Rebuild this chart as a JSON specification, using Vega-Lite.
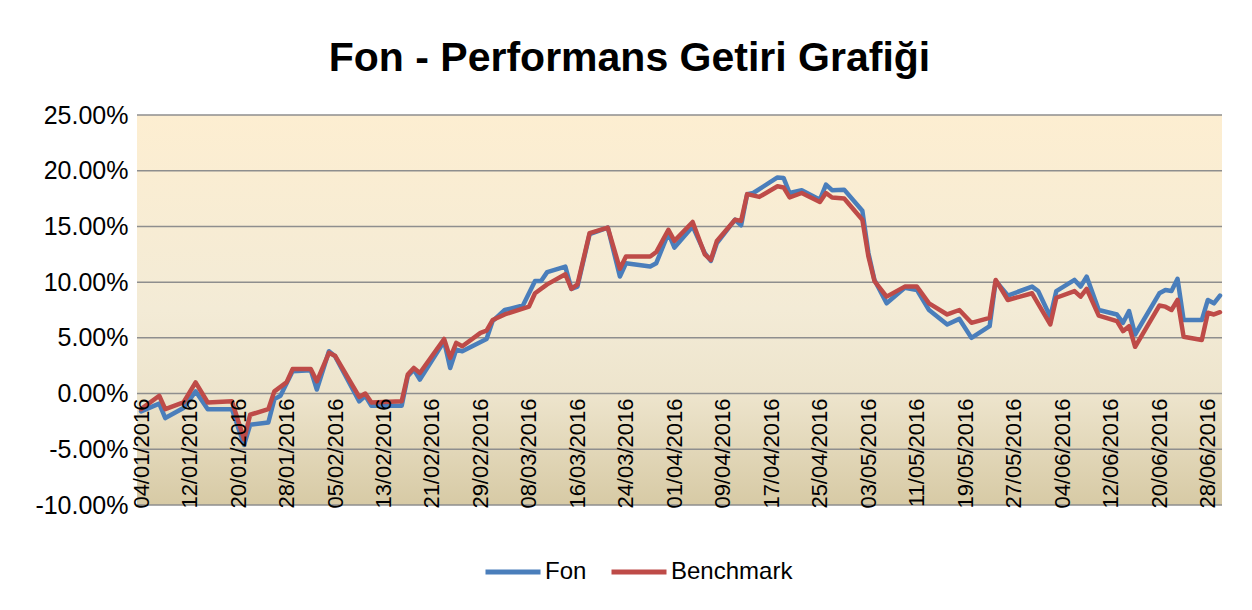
{
  "$schema": "https://vega.github.io/schema/vega-lite/v6.json",
  "width": 1085,
  "height": 390,
  "autosize": {"type": "none"},
  "padding": {"left": 137, "top": 115, "right": 30, "bottom": 105},
  "background": "white",
  "config": {"view": {"stroke": null}, "font": "Liberation Sans"},
  "title": {
    "text": "Fon - Performans Getiri Grafiği",
    "fontSize": 41,
    "font": "Liberation Sans",
    "fontWeight": "bold",
    "color": "#000000",
    "anchor": "middle",
    "dx": -50,
    "offset": -9,
    "baseline": "alphabetic"
  },
  "encoding": {
    "y": {
      "field": "v",
      "type": "quantitative",
      "scale": {"domain": [-0.1, 0.25], "nice": false, "zero": false},
      "axis": {
        "values": [-0.1, -0.05, 0, 0.05, 0.1, 0.15, 0.2, 0.25],
        "labelExpr": "replace(format(datum.value,'.2%'),'\u2212','-')",
        "title": null,
        "domain": false,
        "ticks": false,
        "tickSize": 0,
        "labelPadding": 9,
        "labelFontSize": 25,
        "labelColor": "#000000",
        "labelFont": "Liberation Sans",
        "grid": false
      }
    }
  },
  "layer": [
    {
      "data": {"values": [{"v": 0.25, "v2": -0.1}]},
      "mark": {
        "type": "rect",
        "fill": {
          "gradient": "linear",
          "x1": 0, "y1": 0, "x2": 0, "y2": 1,
          "stops": [
            {"offset": 0, "color": "#FDEED1"},
            {"offset": 0.5, "color": "#F3EBD6"},
            {"offset": 0.72, "color": "#EDE4CC"},
            {"offset": 1, "color": "#D7CAA5"}
          ]
        }
      },
      "encoding": {"y2": {"field": "v2"}}
    },
    {
      "data": {"values": [{"v": -0.1}, {"v": -0.05}, {"v": 0}, {"v": 0.05}, {"v": 0.1}, {"v": 0.15}, {"v": 0.2}, {"v": 0.25}]},
      "mark": {"type": "rule", "color": "#8e8e8e", "strokeWidth": 1.5},
      "encoding": {}
    },
    {
      "data": {"values": [
        {"d": "2016-01-04", "s": "Fon", "v": -0.016},
        {"d": "2016-01-07", "s": "Fon", "v": -0.009},
        {"d": "2016-01-08", "s": "Fon", "v": -0.022},
        {"d": "2016-01-11", "s": "Fon", "v": -0.013},
        {"d": "2016-01-13", "s": "Fon", "v": 0.002},
        {"d": "2016-01-15", "s": "Fon", "v": -0.014},
        {"d": "2016-01-19", "s": "Fon", "v": -0.014},
        {"d": "2016-01-21", "s": "Fon", "v": -0.046},
        {"d": "2016-01-22", "s": "Fon", "v": -0.028},
        {"d": "2016-01-25", "s": "Fon", "v": -0.026},
        {"d": "2016-01-26", "s": "Fon", "v": -0.005},
        {"d": "2016-01-27", "s": "Fon", "v": -0.002},
        {"d": "2016-01-29", "s": "Fon", "v": 0.020},
        {"d": "2016-02-01", "s": "Fon", "v": 0.021},
        {"d": "2016-02-02", "s": "Fon", "v": 0.0036},
        {"d": "2016-02-04", "s": "Fon", "v": 0.038},
        {"d": "2016-02-05", "s": "Fon", "v": 0.0335},
        {"d": "2016-02-09", "s": "Fon", "v": -0.007},
        {"d": "2016-02-10", "s": "Fon", "v": -0.002},
        {"d": "2016-02-11", "s": "Fon", "v": -0.011},
        {"d": "2016-02-16", "s": "Fon", "v": -0.011},
        {"d": "2016-02-17", "s": "Fon", "v": 0.0155},
        {"d": "2016-02-18", "s": "Fon", "v": 0.0215},
        {"d": "2016-02-19", "s": "Fon", "v": 0.0125},
        {"d": "2016-02-23", "s": "Fon", "v": 0.047},
        {"d": "2016-02-24", "s": "Fon", "v": 0.023},
        {"d": "2016-02-25", "s": "Fon", "v": 0.0395},
        {"d": "2016-02-26", "s": "Fon", "v": 0.038},
        {"d": "2016-03-01", "s": "Fon", "v": 0.049},
        {"d": "2016-03-02", "s": "Fon", "v": 0.065},
        {"d": "2016-03-04", "s": "Fon", "v": 0.075},
        {"d": "2016-03-07", "s": "Fon", "v": 0.079},
        {"d": "2016-03-09", "s": "Fon", "v": 0.101},
        {"d": "2016-03-10", "s": "Fon", "v": 0.101},
        {"d": "2016-03-11", "s": "Fon", "v": 0.109},
        {"d": "2016-03-14", "s": "Fon", "v": 0.114},
        {"d": "2016-03-15", "s": "Fon", "v": 0.094},
        {"d": "2016-03-16", "s": "Fon", "v": 0.096},
        {"d": "2016-03-18", "s": "Fon", "v": 0.143},
        {"d": "2016-03-21", "s": "Fon", "v": 0.149},
        {"d": "2016-03-23", "s": "Fon", "v": 0.105},
        {"d": "2016-03-24", "s": "Fon", "v": 0.117},
        {"d": "2016-03-28", "s": "Fon", "v": 0.114},
        {"d": "2016-03-29", "s": "Fon", "v": 0.117},
        {"d": "2016-03-31", "s": "Fon", "v": 0.144},
        {"d": "2016-04-01", "s": "Fon", "v": 0.131},
        {"d": "2016-04-04", "s": "Fon", "v": 0.150},
        {"d": "2016-04-06", "s": "Fon", "v": 0.126},
        {"d": "2016-04-07", "s": "Fon", "v": 0.119},
        {"d": "2016-04-08", "s": "Fon", "v": 0.135},
        {"d": "2016-04-11", "s": "Fon", "v": 0.156},
        {"d": "2016-04-12", "s": "Fon", "v": 0.151},
        {"d": "2016-04-13", "s": "Fon", "v": 0.179},
        {"d": "2016-04-14", "s": "Fon", "v": 0.180},
        {"d": "2016-04-18", "s": "Fon", "v": 0.194},
        {"d": "2016-04-19", "s": "Fon", "v": 0.1935},
        {"d": "2016-04-20", "s": "Fon", "v": 0.180},
        {"d": "2016-04-22", "s": "Fon", "v": 0.1825},
        {"d": "2016-04-25", "s": "Fon", "v": 0.174},
        {"d": "2016-04-26", "s": "Fon", "v": 0.1875},
        {"d": "2016-04-27", "s": "Fon", "v": 0.1825},
        {"d": "2016-04-29", "s": "Fon", "v": 0.183},
        {"d": "2016-05-02", "s": "Fon", "v": 0.164},
        {"d": "2016-05-03", "s": "Fon", "v": 0.126},
        {"d": "2016-05-04", "s": "Fon", "v": 0.102},
        {"d": "2016-05-06", "s": "Fon", "v": 0.081},
        {"d": "2016-05-09", "s": "Fon", "v": 0.095},
        {"d": "2016-05-11", "s": "Fon", "v": 0.093},
        {"d": "2016-05-13", "s": "Fon", "v": 0.075},
        {"d": "2016-05-16", "s": "Fon", "v": 0.062},
        {"d": "2016-05-18", "s": "Fon", "v": 0.067},
        {"d": "2016-05-20", "s": "Fon", "v": 0.050},
        {"d": "2016-05-23", "s": "Fon", "v": 0.0605},
        {"d": "2016-05-24", "s": "Fon", "v": 0.101},
        {"d": "2016-05-26", "s": "Fon", "v": 0.088},
        {"d": "2016-05-30", "s": "Fon", "v": 0.096},
        {"d": "2016-05-31", "s": "Fon", "v": 0.092},
        {"d": "2016-06-02", "s": "Fon", "v": 0.069},
        {"d": "2016-06-03", "s": "Fon", "v": 0.092},
        {"d": "2016-06-06", "s": "Fon", "v": 0.102},
        {"d": "2016-06-07", "s": "Fon", "v": 0.096},
        {"d": "2016-06-08", "s": "Fon", "v": 0.105},
        {"d": "2016-06-10", "s": "Fon", "v": 0.075},
        {"d": "2016-06-13", "s": "Fon", "v": 0.071},
        {"d": "2016-06-14", "s": "Fon", "v": 0.0635},
        {"d": "2016-06-15", "s": "Fon", "v": 0.074},
        {"d": "2016-06-16", "s": "Fon", "v": 0.053},
        {"d": "2016-06-20", "s": "Fon", "v": 0.090},
        {"d": "2016-06-21", "s": "Fon", "v": 0.093},
        {"d": "2016-06-22", "s": "Fon", "v": 0.092},
        {"d": "2016-06-23", "s": "Fon", "v": 0.103},
        {"d": "2016-06-24", "s": "Fon", "v": 0.066},
        {"d": "2016-06-27", "s": "Fon", "v": 0.066},
        {"d": "2016-06-28", "s": "Fon", "v": 0.084},
        {"d": "2016-06-29", "s": "Fon", "v": 0.081},
        {"d": "2016-06-30", "s": "Fon", "v": 0.088},
        {"d": "2016-01-04", "s": "Benchmark", "v": -0.014},
        {"d": "2016-01-07", "s": "Benchmark", "v": -0.002},
        {"d": "2016-01-08", "s": "Benchmark", "v": -0.014},
        {"d": "2016-01-11", "s": "Benchmark", "v": -0.008},
        {"d": "2016-01-13", "s": "Benchmark", "v": 0.010},
        {"d": "2016-01-15", "s": "Benchmark", "v": -0.008},
        {"d": "2016-01-19", "s": "Benchmark", "v": -0.007},
        {"d": "2016-01-21", "s": "Benchmark", "v": -0.041},
        {"d": "2016-01-22", "s": "Benchmark", "v": -0.019},
        {"d": "2016-01-25", "s": "Benchmark", "v": -0.014},
        {"d": "2016-01-26", "s": "Benchmark", "v": 0.002},
        {"d": "2016-01-28", "s": "Benchmark", "v": 0.010},
        {"d": "2016-01-29", "s": "Benchmark", "v": 0.022},
        {"d": "2016-02-01", "s": "Benchmark", "v": 0.022},
        {"d": "2016-02-02", "s": "Benchmark", "v": 0.011},
        {"d": "2016-02-04", "s": "Benchmark", "v": 0.0365},
        {"d": "2016-02-05", "s": "Benchmark", "v": 0.034},
        {"d": "2016-02-09", "s": "Benchmark", "v": -0.003},
        {"d": "2016-02-10", "s": "Benchmark", "v": 0.000},
        {"d": "2016-02-11", "s": "Benchmark", "v": -0.008},
        {"d": "2016-02-16", "s": "Benchmark", "v": -0.007},
        {"d": "2016-02-17", "s": "Benchmark", "v": 0.017},
        {"d": "2016-02-18", "s": "Benchmark", "v": 0.023},
        {"d": "2016-02-19", "s": "Benchmark", "v": 0.0185},
        {"d": "2016-02-23", "s": "Benchmark", "v": 0.049},
        {"d": "2016-02-24", "s": "Benchmark", "v": 0.032},
        {"d": "2016-02-25", "s": "Benchmark", "v": 0.0455},
        {"d": "2016-02-26", "s": "Benchmark", "v": 0.0425},
        {"d": "2016-02-29", "s": "Benchmark", "v": 0.0545},
        {"d": "2016-03-01", "s": "Benchmark", "v": 0.0565},
        {"d": "2016-03-02", "s": "Benchmark", "v": 0.066},
        {"d": "2016-03-04", "s": "Benchmark", "v": 0.071},
        {"d": "2016-03-08", "s": "Benchmark", "v": 0.078},
        {"d": "2016-03-09", "s": "Benchmark", "v": 0.090},
        {"d": "2016-03-11", "s": "Benchmark", "v": 0.098},
        {"d": "2016-03-14", "s": "Benchmark", "v": 0.107},
        {"d": "2016-03-15", "s": "Benchmark", "v": 0.094},
        {"d": "2016-03-16", "s": "Benchmark", "v": 0.098},
        {"d": "2016-03-18", "s": "Benchmark", "v": 0.144},
        {"d": "2016-03-21", "s": "Benchmark", "v": 0.149},
        {"d": "2016-03-23", "s": "Benchmark", "v": 0.112},
        {"d": "2016-03-24", "s": "Benchmark", "v": 0.123},
        {"d": "2016-03-28", "s": "Benchmark", "v": 0.123},
        {"d": "2016-03-29", "s": "Benchmark", "v": 0.127},
        {"d": "2016-03-31", "s": "Benchmark", "v": 0.147},
        {"d": "2016-04-01", "s": "Benchmark", "v": 0.137},
        {"d": "2016-04-04", "s": "Benchmark", "v": 0.154},
        {"d": "2016-04-06", "s": "Benchmark", "v": 0.125},
        {"d": "2016-04-07", "s": "Benchmark", "v": 0.120},
        {"d": "2016-04-08", "s": "Benchmark", "v": 0.137},
        {"d": "2016-04-11", "s": "Benchmark", "v": 0.156},
        {"d": "2016-04-12", "s": "Benchmark", "v": 0.155},
        {"d": "2016-04-13", "s": "Benchmark", "v": 0.179},
        {"d": "2016-04-15", "s": "Benchmark", "v": 0.1765},
        {"d": "2016-04-18", "s": "Benchmark", "v": 0.186},
        {"d": "2016-04-19", "s": "Benchmark", "v": 0.185},
        {"d": "2016-04-20", "s": "Benchmark", "v": 0.176},
        {"d": "2016-04-22", "s": "Benchmark", "v": 0.180},
        {"d": "2016-04-25", "s": "Benchmark", "v": 0.172},
        {"d": "2016-04-26", "s": "Benchmark", "v": 0.180},
        {"d": "2016-04-27", "s": "Benchmark", "v": 0.176},
        {"d": "2016-04-29", "s": "Benchmark", "v": 0.175},
        {"d": "2016-05-02", "s": "Benchmark", "v": 0.156},
        {"d": "2016-05-03", "s": "Benchmark", "v": 0.123},
        {"d": "2016-05-04", "s": "Benchmark", "v": 0.101},
        {"d": "2016-05-06", "s": "Benchmark", "v": 0.087},
        {"d": "2016-05-09", "s": "Benchmark", "v": 0.096},
        {"d": "2016-05-11", "s": "Benchmark", "v": 0.096},
        {"d": "2016-05-13", "s": "Benchmark", "v": 0.081},
        {"d": "2016-05-16", "s": "Benchmark", "v": 0.071},
        {"d": "2016-05-18", "s": "Benchmark", "v": 0.075},
        {"d": "2016-05-20", "s": "Benchmark", "v": 0.0635},
        {"d": "2016-05-23", "s": "Benchmark", "v": 0.068},
        {"d": "2016-05-24", "s": "Benchmark", "v": 0.102},
        {"d": "2016-05-26", "s": "Benchmark", "v": 0.084},
        {"d": "2016-05-30", "s": "Benchmark", "v": 0.090},
        {"d": "2016-06-02", "s": "Benchmark", "v": 0.062},
        {"d": "2016-06-03", "s": "Benchmark", "v": 0.086},
        {"d": "2016-06-06", "s": "Benchmark", "v": 0.092},
        {"d": "2016-06-07", "s": "Benchmark", "v": 0.087},
        {"d": "2016-06-08", "s": "Benchmark", "v": 0.094},
        {"d": "2016-06-10", "s": "Benchmark", "v": 0.070},
        {"d": "2016-06-13", "s": "Benchmark", "v": 0.065},
        {"d": "2016-06-14", "s": "Benchmark", "v": 0.056},
        {"d": "2016-06-15", "s": "Benchmark", "v": 0.0605},
        {"d": "2016-06-16", "s": "Benchmark", "v": 0.042},
        {"d": "2016-06-20", "s": "Benchmark", "v": 0.079},
        {"d": "2016-06-21", "s": "Benchmark", "v": 0.078},
        {"d": "2016-06-22", "s": "Benchmark", "v": 0.075},
        {"d": "2016-06-23", "s": "Benchmark", "v": 0.084},
        {"d": "2016-06-24", "s": "Benchmark", "v": 0.051},
        {"d": "2016-06-27", "s": "Benchmark", "v": 0.048},
        {"d": "2016-06-28", "s": "Benchmark", "v": 0.0725},
        {"d": "2016-06-29", "s": "Benchmark", "v": 0.071},
        {"d": "2016-06-30", "s": "Benchmark", "v": 0.073}
      ]},
      "mark": {"type": "line", "strokeWidth": 4.5, "strokeJoin": "round", "strokeCap": "round"},
      "encoding": {
        "x": {
          "field": "d",
          "type": "temporal",
          "scale": {
            "type": "utc",
            "domain": [
              {"year": 2016, "month": 1, "date": 3, "hours": 8, "utc": true},
              {"year": 2016, "month": 6, "date": 30, "hours": 8, "utc": true}
            ]
          },
          "axis": {
            "values": [
              {"year": 2016, "month": 1, "date": 4, "utc": true},
              {"year": 2016, "month": 1, "date": 12, "utc": true},
              {"year": 2016, "month": 1, "date": 20, "utc": true},
              {"year": 2016, "month": 1, "date": 28, "utc": true},
              {"year": 2016, "month": 2, "date": 5, "utc": true},
              {"year": 2016, "month": 2, "date": 13, "utc": true},
              {"year": 2016, "month": 2, "date": 21, "utc": true},
              {"year": 2016, "month": 2, "date": 29, "utc": true},
              {"year": 2016, "month": 3, "date": 8, "utc": true},
              {"year": 2016, "month": 3, "date": 16, "utc": true},
              {"year": 2016, "month": 3, "date": 24, "utc": true},
              {"year": 2016, "month": 4, "date": 1, "utc": true},
              {"year": 2016, "month": 4, "date": 9, "utc": true},
              {"year": 2016, "month": 4, "date": 17, "utc": true},
              {"year": 2016, "month": 4, "date": 25, "utc": true},
              {"year": 2016, "month": 5, "date": 3, "utc": true},
              {"year": 2016, "month": 5, "date": 11, "utc": true},
              {"year": 2016, "month": 5, "date": 19, "utc": true},
              {"year": 2016, "month": 5, "date": 27, "utc": true},
              {"year": 2016, "month": 6, "date": 4, "utc": true},
              {"year": 2016, "month": 6, "date": 12, "utc": true},
              {"year": 2016, "month": 6, "date": 20, "utc": true},
              {"year": 2016, "month": 6, "date": 28, "utc": true}
            ],
            "labelExpr": "utcFormat(datum.value, '%d/%m/%Y')",
            "labelAngle": -90,
            "offset": -111,
            "zindex": 1,
            "domain": false,
            "ticks": false,
            "labelPadding": 4,
            "labelFontSize": 22,
            "labelColor": "#000000",
            "labelFont": "Liberation Sans",
            "title": null,
            "grid": false,
            "labelOverlap": false,
            "labelBound": false,
            "labelFlush": false
          }
        },
        "color": {
          "field": "s",
          "type": "nominal",
          "scale": {"domain": ["Fon", "Benchmark"], "range": ["#4A7EBB", "#BE4B48"]},
          "legend": {
            "title": null,
            "orient": "none",
            "legendX": 346,
            "legendY": 427,
            "direction": "horizontal",
            "symbolType": "stroke",
            "symbolSize": 3025,
            "symbolStrokeWidth": 5,
            "labelFontSize": 24,
            "labelColor": "#000000",
            "labelFont": "Liberation Sans",
            "columnPadding": 14,
            "labelOffset": 2,
            "padding": 0
          }
        }
      }
    }
  ]
}
